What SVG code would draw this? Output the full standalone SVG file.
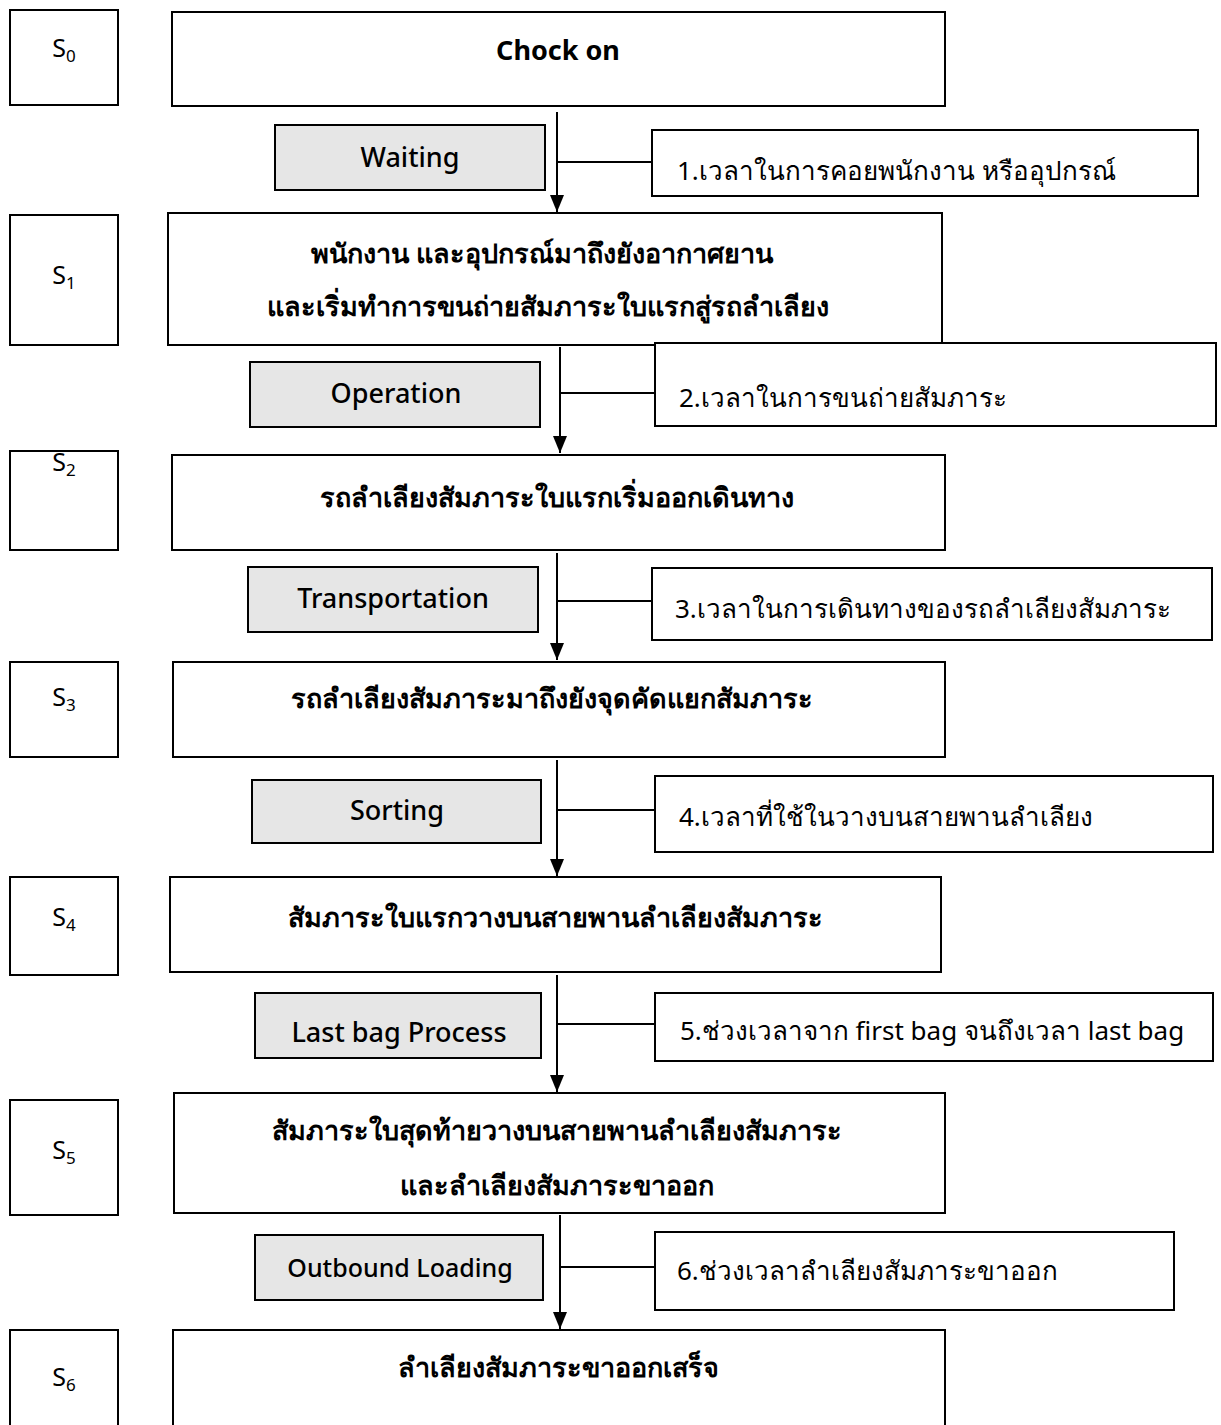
<svg xmlns="http://www.w3.org/2000/svg" width="1221" height="1425" viewBox="0 0 1221 1425">
<defs>
<marker id="ah" viewBox="0 0 10 10" refX="10" refY="5" markerWidth="17" markerHeight="14" markerUnits="userSpaceOnUse" orient="auto" preserveAspectRatio="none">
<path d="M0,0 L10,5 L0,10 Z" fill="#000"/>
</marker>
<style>
.box{fill:#fff;stroke:#000;stroke-width:2}
.gbox{fill:#e6e6e6;stroke:#000;stroke-width:2}
.s{font-family:"Noto Sans","DejaVu Sans",sans-serif;font-size:25px;fill:#000;text-anchor:middle}
.sub{font-size:17px}
.m{font-family:"Noto Sans","DejaVu Sans",sans-serif;font-size:27px;font-weight:bold;fill:#000;text-anchor:middle}
.g{font-family:"Noto Sans","DejaVu Sans",sans-serif;font-size:27px;font-weight:500;fill:#000;text-anchor:middle}
.g.small{font-size:25px}
.n{font-family:"Noto Sans","DejaVu Sans",sans-serif;font-size:26px;fill:#000}
.c{fill:none;stroke:#000;stroke-width:2}
</style>
</defs>
<rect width="1221" height="1425" fill="#fff"/>

<g id="s0"><rect class="box" x="10" y="10" width="108" height="95"/><text class="s" x="64" y="57">S<tspan class="sub" dy="5">0</tspan></text></g>
<g id="s1"><rect class="box" x="10" y="215" width="108" height="130"/><text class="s" x="64" y="284">S<tspan class="sub" dy="5">1</tspan></text></g>
<g id="s2"><rect class="box" x="10" y="451" width="108" height="99"/><text class="s" x="64" y="471">S<tspan class="sub" dy="5">2</tspan></text></g>
<g id="s3"><rect class="box" x="10" y="662" width="108" height="95"/><text class="s" x="64" y="706">S<tspan class="sub" dy="5">3</tspan></text></g>
<g id="s4"><rect class="box" x="10" y="877" width="108" height="98"/><text class="s" x="64" y="926">S<tspan class="sub" dy="5">4</tspan></text></g>
<g id="s5"><rect class="box" x="10" y="1100" width="108" height="115"/><text class="s" x="64" y="1159">S<tspan class="sub" dy="5">5</tspan></text></g>
<g id="s6"><rect class="box" x="10" y="1330" width="108" height="110"/><text class="s" x="64" y="1386">S<tspan class="sub" dy="5">6</tspan></text></g>

<g id="b0"><rect class="box" x="172" y="12" width="773" height="94"/><text class="m" x="558" y="60">Chock on</text></g>
<g id="b1"><rect class="box" x="168" y="213" width="774" height="132"/><text class="m" x="542" y="263">พนักงาน และอุปกรณ์มาถึงยังอากาศยาน</text><text class="m" x="548" y="316">และเริ่มทำการขนถ่ายสัมภาระใบแรกสู่รถลำเลียง</text></g>
<g id="b2"><rect class="box" x="172" y="455" width="773" height="95"/><text class="m" x="557" y="507">รถลำเลียงสัมภาระใบแรกเริ่มออกเดินทาง</text></g>
<g id="b3"><rect class="box" x="173" y="662" width="772" height="95"/><text class="m" x="552" y="708">รถลำเลียงสัมภาระมาถึงยังจุดคัดแยกสัมภาระ</text></g>
<g id="b4"><rect class="box" x="170" y="877" width="771" height="95"/><text class="m" x="555" y="927">สัมภาระใบแรกวางบนสายพานลำเลียงสัมภาระ</text></g>
<g id="b5"><rect class="box" x="174" y="1093" width="771" height="120"/><text class="m" x="557" y="1140">สัมภาระใบสุดท้ายวางบนสายพานลำเลียงสัมภาระ</text><text class="m" x="557" y="1195">และลำเลียงสัมภาระขาออก</text></g>
<g id="b6"><rect class="box" x="173" y="1330" width="772" height="110"/><text class="m" x="558" y="1377">ลำเลียงสัมภาระขาออกเสร็จ</text></g>

<g id="g0"><rect class="gbox" x="275" y="125" width="270" height="65"/><text class="g" x="410" y="167">Waiting</text></g>
<g id="g1"><rect class="gbox" x="250" y="362" width="290" height="65"/><text class="g" x="396" y="403">Operation</text></g>
<g id="g2"><rect class="gbox" x="248" y="567" width="290" height="65"/><text class="g" x="393" y="608">Transportation</text></g>
<g id="g3"><rect class="gbox" x="252" y="780" width="289" height="63"/><text class="g" x="397" y="820">Sorting</text></g>
<g id="g4"><rect class="gbox" x="255" y="993" width="286" height="65"/><text class="g" x="399" y="1042">Last bag Process</text></g>
<g id="g5"><rect class="gbox" x="255" y="1235" width="288" height="65"/><text class="g small" x="400" y="1277">Outbound Loading</text></g>

<g id="n1"><rect class="box" x="652" y="130" width="546" height="66"/><text class="n" x="677" y="180">1.เวลาในการคอยพนักงาน หรืออุปกรณ์</text></g>
<g id="n2"><rect class="box" x="655" y="343" width="561" height="83"/><text class="n" x="679" y="407">2.เวลาในการขนถ่ายสัมภาระ</text></g>
<g id="n3"><rect class="box" x="652" y="568" width="560" height="72"/><text class="n" x="675" y="618">3.เวลาในการเดินทางของรถลำเลียงสัมภาระ</text></g>
<g id="n4"><rect class="box" x="655" y="776" width="558" height="76"/><text class="n" x="679" y="826">4.เวลาที่ใช้ในวางบนสายพานลำเลียง</text></g>
<g id="n5"><rect class="box" x="655" y="993" width="558" height="68"/><text class="n" x="680" y="1040">5.ช่วงเวลาจาก first bag จนถึงเวลา last bag</text></g>
<g id="n6"><rect class="box" x="655" y="1232" width="519" height="78"/><text class="n" x="677" y="1280">6.ช่วงเวลาลำเลียงสัมภาระขาออก</text></g>

<g id="connectors">
<line class="c" x1="557" y1="112" x2="557" y2="212" marker-end="url(#ah)"/>
<line class="c" x1="557" y1="162" x2="652" y2="162"/>
<line class="c" x1="560" y1="347" x2="560" y2="453" marker-end="url(#ah)"/>
<line class="c" x1="560" y1="393" x2="655" y2="393"/>
<line class="c" x1="557" y1="553" x2="557" y2="660" marker-end="url(#ah)"/>
<line class="c" x1="557" y1="601" x2="652" y2="601"/>
<line class="c" x1="557" y1="760" x2="557" y2="876" marker-end="url(#ah)"/>
<line class="c" x1="557" y1="810" x2="655" y2="810"/>
<line class="c" x1="557" y1="975" x2="557" y2="1092" marker-end="url(#ah)"/>
<line class="c" x1="557" y1="1024" x2="655" y2="1024"/>
<line class="c" x1="560" y1="1215" x2="560" y2="1329" marker-end="url(#ah)"/>
<line class="c" x1="560" y1="1267" x2="655" y2="1267"/>
</g>
</svg>
